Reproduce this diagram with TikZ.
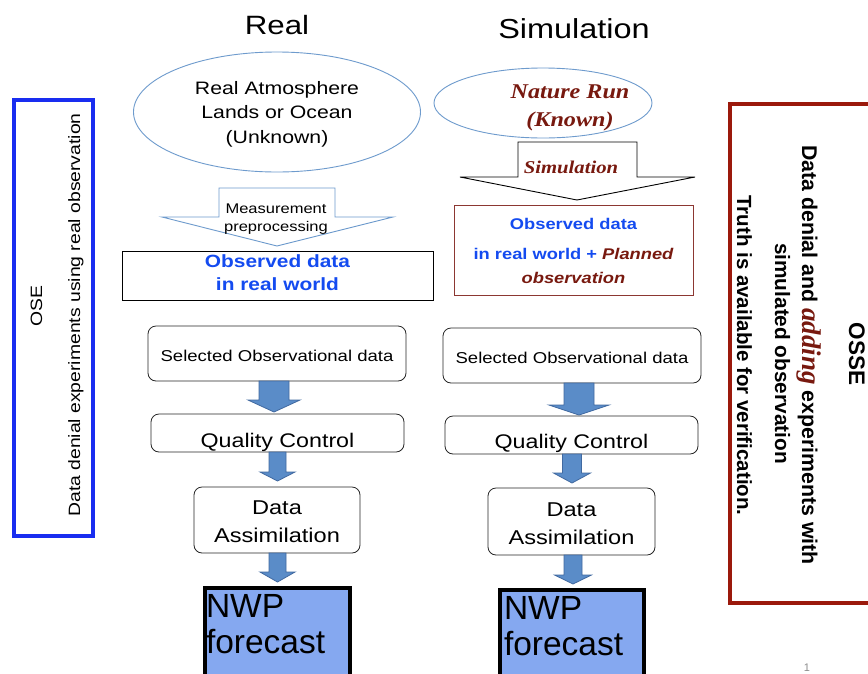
\documentclass[tikz,border=0pt]{standalone}
\usepackage{fontspec}
\setmainfont{Liberation Sans}[FakeStretch=1.18]
\newfontfamily\plainsans{Liberation Sans}
\newfontfamily\serifw{Liberation Serif}[FakeStretch=1.15]
\newfontfamily\serifn{Liberation Serif}
\definecolor{ellblue}{RGB}{110,155,205}
\definecolor{obsblue}{RGB}{20,75,240}
\definecolor{dred}{RGB}{120,25,15}
\definecolor{boxred}{RGB}{140,55,50}
\definecolor{osseRed}{RGB}{155,25,12}
\definecolor{oseBlue}{RGB}{25,45,240}
\definecolor{nwpfill}{RGB}{133,168,240}
\definecolor{arrfill}{RGB}{90,140,200}
\definecolor{arrdraw}{RGB}{65,105,160}
\newcommand\fs[2]{\fontsize{#1}{#2}\selectfont}
\newcommand\dnarr[6]{% cx, top, shaft half width, head half width, head base, tip
  \draw[barrow] ({#1-#3},#2) -- ({#1+#3},#2) -- ({#1+#3},#5) -- ({#1+#4},#5) -- (#1,#6) -- ({#1-#4},#5) -- ({#1-#3},#5) -- cycle;}
\tikzset{
  txt/.style={inner sep=0pt, outer sep=0pt},
  ell/.style={ellipse, draw=ellblue, line width=0.9pt, inner sep=0pt},
  rbox/.style={rectangle, rounded corners=8pt, draw=black!85, line width=0.8pt, inner sep=0pt},
  nwp/.style={rectangle, draw=black, fill=nwpfill, line width=4pt, inner sep=0pt, anchor=north},
  barrow/.style={fill=arrfill, draw=arrdraw, line width=0.8pt, line join=miter},
}
\usetikzlibrary{shapes.geometric}
\begin{document}
\begin{tikzpicture}[x=1pt,y=-1pt]
\useasboundingbox (0,0) rectangle (868,673);
\fill[white] (0,0) rectangle (868,673);

% titles
\node[txt, anchor=base] (tReal) at (277,34) {\fs{26.5}{30}Real};
\node[txt, anchor=base] (tSim) at (574,38) {\fs{27.5}{30}Simulation};

% ---------- left column ----------
\node[ell, minimum width=287pt, minimum height=120pt] (realE) at (277,112) {};
\node[txt, align=center, font=\fs{18}{24.5}] (realT) at (277,114) {Real Atmosphere\\Lands or Ocean\\(Unknown)};

\draw[draw=ellblue, fill=white, line width=0.9pt] (219,188) -- (335,188) -- (335,217) -- (393,217) -- (277,246) -- (162,217) -- (219,217) -- cycle;
\node[txt, align=center, font=\fs{14}{18}] (measT) at (276,219) {Measurement\\preprocessing};

\node[rectangle, draw=black, line width=0.9pt, minimum width=311pt, minimum height=49pt, inner sep=0pt] (obsL) at (277.5,275.5) {};
\node[txt, align=center, text=obsblue, font=\fs{17.7}{23}\bfseries] (obsLT) at (277.5,273) {Observed data\\in real world};

\node[rbox, minimum width=258pt, minimum height=55pt] (selL) at (277,353.5) {};
\node[txt, anchor=base] (selLT) at (277,361) {\fs{15.7}{20}Selected Observational data};
\node[rbox, minimum width=253pt, minimum height=38pt] (qcL) at (277.5,433) {};
\node[txt, anchor=base] (qcLT) at (277.5,447) {\fs{19.7}{24}Quality Control};
\node[rbox, minimum width=166pt, minimum height=66pt] (daL) at (277,520) {};
\node[txt, align=center, font=\fs{20}{28}] (daLT) at (277,522) {Data\\Assimilation};
\node[nwp, minimum width=145pt, minimum height=120pt] (nwpL) at (277.5,586) {};
\node[txt, align=left, anchor=north west, font=\plainsans\fs{33.5}{36.5}] (nwpLT) at (206,594) {NWP\\forecast};

\dnarr{274}{381}{15}{26}{400}{412}
\dnarr{277.5}{452}{8.5}{17.5}{472}{481}
\dnarr{277.5}{553}{8.5}{17.5}{572}{582}

% ---------- right column ----------
\node[ell, minimum width=218pt, minimum height=70pt] (natE) at (543,103) {};
\node[txt, align=center, text=dred, font=\serifw\fs{21}{28}\bfseries\itshape] (natT) at (570,108) {Nature Run\\(Known)};

\draw[draw=black, fill=white, line width=0.9pt] (518,142) -- (637,142) -- (637,177) -- (695,177) -- (577,200) -- (460,177) -- (518,177) -- cycle;
\node[txt, anchor=base, text=dred] (simT) at (571,173) {\serifw\fs{18}{22}\bfseries\itshape Simulation};

\node[rectangle, draw=boxred, line width=0.9pt, minimum width=239pt, minimum height=90pt, inner sep=0pt] (obsR) at (573.5,250) {};
\node[txt, align=center, text=obsblue, font=\fs{15.5}{24}\bfseries] (obsRT) at (573.5,251) {Observed data\\[6pt]in real world + \textcolor{dred}{\itshape Planned}\\\textcolor{dred}{\itshape observation}};

\node[rbox, minimum width=258pt, minimum height=55pt] (selR) at (572,355.5) {};
\node[txt, anchor=base] (selRT) at (572,363) {\fs{15.7}{20}Selected Observational data};
\node[rbox, minimum width=253pt, minimum height=38pt] (qcR) at (571.5,435) {};
\node[txt, anchor=base] (qcRT) at (571.5,448) {\fs{19.7}{24}Quality Control};
\node[rbox, minimum width=167pt, minimum height=67pt] (daR) at (571.5,521.5) {};
\node[txt, align=center, font=\fs{20}{28}] (daRT) at (571.5,524) {Data\\Assimilation};
\node[nwp, minimum width=144pt, minimum height=120pt] (nwpR) at (572,588) {};
\node[txt, align=left, anchor=north west, font=\plainsans\fs{33.5}{36.5}] (nwpRT) at (504,596) {NWP\\forecast};

\dnarr{579}{383}{15}{30}{405}{415}
\dnarr{572}{454}{9.5}{18.5}{473}{483}
\dnarr{573}{555}{9}{18.5}{575}{584}

% ---------- side panels ----------
\draw[draw=oseBlue, line width=4pt] (14,100) rectangle (93,536);
\node[txt, rotate=90, anchor=base] (oseT) at (42,306) {\fs{16.4}{20}OSE};
\node[txt, rotate=90, anchor=base] (oseD) at (80,315) {\fs{16.4}{20}Data denial experiments using real observation};

\draw[draw=osseRed, line width=4pt] (729.5,104) rectangle (885,603);
\node[txt, rotate=-90, anchor=base] (osseT) at (849,354) {\plainsans\fs{22.5}{26}\bfseries OSSE};
\node[txt, rotate=-90, anchor=base] (osseA) at (802,355) {\plainsans\fs{21.3}{26}\bfseries Data denial and {\serifn\fs{27}{28}\bfseries\itshape\color{dred}adding} experiments with};
\node[txt, rotate=-90, anchor=base] (osseB) at (775,353.5) {\plainsans\fs{20.8}{26}\bfseries simulated observation};
\node[txt, rotate=-90, anchor=base] (osseC) at (737,355.5) {\plainsans\fs{20.5}{26}\bfseries Truth is available for verification.};

\node[txt, anchor=base, text=black!45] (pageno) at (807,671) {\plainsans\fs{11}{13}1};
\end{tikzpicture}
\end{document}
